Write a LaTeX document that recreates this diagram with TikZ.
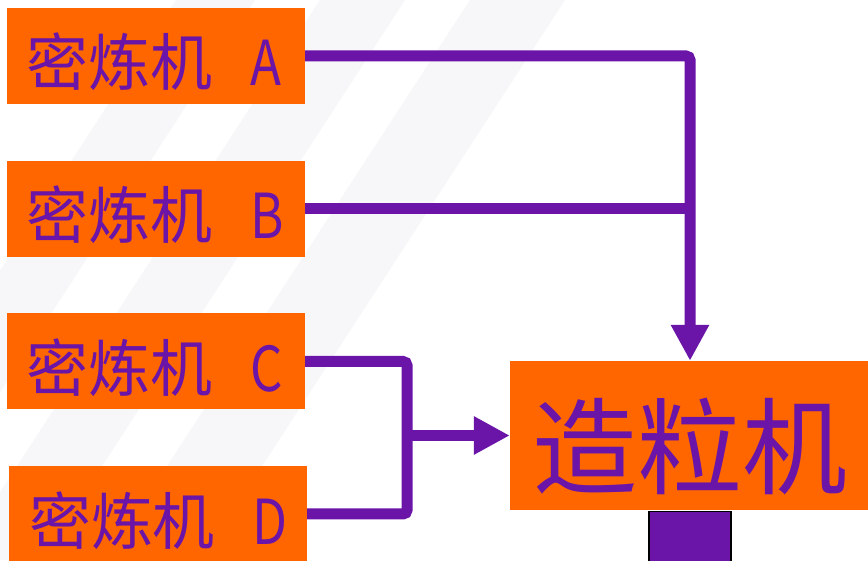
\documentclass[tikz,border=0pt]{standalone}
\usepackage{fontspec}
\newfontfamily\cjk{Noto Sans CJK SC}
\usetikzlibrary{arrows.meta}
\definecolor{org}{RGB}{255,102,0}
\definecolor{pur}{RGB}{106,20,168}
\definecolor{stripe}{RGB}{247,247,249}
\begin{document}
\begin{tikzpicture}[x=1pt,y=1pt,
  mbox/.style={fill=org, minimum width=298pt, minimum height=96pt, inner xsep=20pt, inner ysep=0pt,
    text width=258pt, align=left, text height=60pt, text depth=0pt, text=pur,
    font=\cjk\fontsize{62}{62}\selectfont},
  gbox/.style={fill=org, minimum width=360pt, minimum height=149pt, inner sep=0pt, text=pur,
    text height=101pt, text depth=0pt, font=\cjk\fontsize{105}{105}\selectfont},
  pbox/.style={fill=pur, draw=black, line width=1.5pt, minimum width=82pt, minimum height=80pt, inner sep=0pt},
  conn/.style={draw=pur, line width=11pt, rounded corners=4pt},
  tip/.style={-{Triangle[length=36pt,width=36pt]}}
]
\useasboundingbox (0,0) rectangle (868,560);
\clip (0,0) rectangle (868,560);
\fill[white] (0,0) rectangle (868,560);
\foreach \pa/\pb in {176/255, 320/405, 470/565}{
  \fill[stripe] (\pa,560) -- (\pb,560) -- ({\pb-364},0) -- ({\pa-364},0) -- cycle;
}
\node[mbox] (A) at (156,504) {\mbox{密炼机\hspace{38pt}\scalebox{0.82}[1]{A}}};
\node[mbox] (B) at (156,351) {\mbox{密炼机\hspace{38pt}\scalebox{0.82}[1]{B}}};
\node[mbox] (C) at (156,198.5) {\mbox{密炼机\hspace{38pt}\scalebox{0.82}[1]{C}}};
\node[mbox] (D) at (158,46) {\mbox{密炼机\hspace{38pt}\scalebox{0.82}[1]{D}}};
\node[gbox] (G) at (690,124.5) {造粒机};
\node[pbox, anchor=north] (P) at ([yshift=-0.5pt]G.south) {};
\coordinate (J) at (407,124.5);
\draw[conn, tip] (A.east) -| (G.north);
\draw[conn] (B.east) -- (B.east -| G.north);
\draw[conn] (C.east) -| (J) |- (D.east);
\draw[conn, tip] (J) -- (G.west |- J);
\end{tikzpicture}
\end{document}
